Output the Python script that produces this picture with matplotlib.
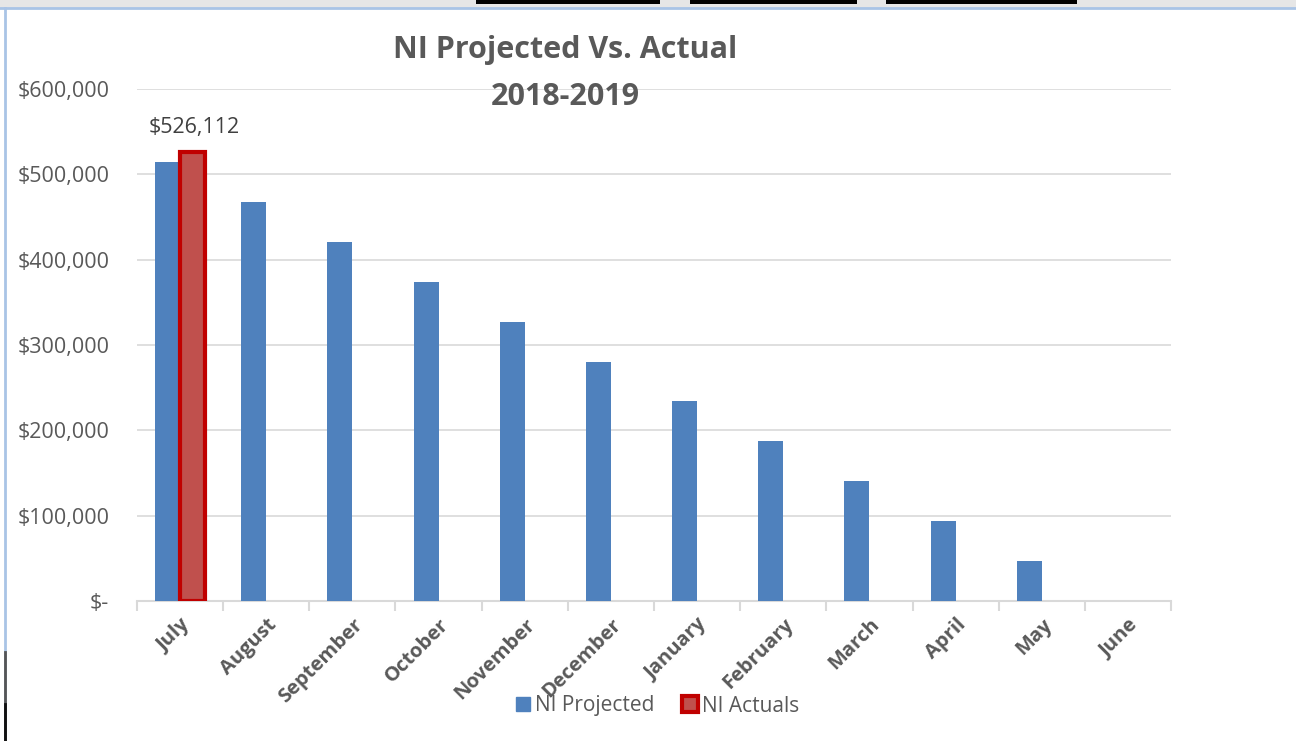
import numpy as np
import matplotlib.pyplot as plt
from matplotlib.lines import Line2D
from matplotlib.patches import Rectangle
from matplotlib.ticker import FuncFormatter

months = ["July", "August", "September", "October", "November", "December",
          "January", "February", "March", "April", "May", "June"]
projected = [514600, 467800, 421000, 374200, 327400, 280600,
             233800, 187000, 140200, 93400, 46600, 0]
actuals = [526112, None, None, None, None, None,
           None, None, None, None, None, None]

BLUE = "#4f81bd"
RED_FILL = "#c0504d"
RED_EDGE = "#c00000"
GREY_TXT = "#595959"
GRID = "#d9d9d9"


def money(v, pos=None):
    if v == 0:
        return "$-"
    return f"${v:,.0f}"


def main():
    plt.rcParams["font.family"] = ["Open Sans", "DejaVu Sans"]
    fig = plt.figure(figsize=(12.96, 7.41), dpi=100)

    # spreadsheet frame around the chart
    fig.patches.append(Rectangle((0, 0.988), 1, 0.012, transform=fig.transFigure,
                                 facecolor="#e6e6e6", edgecolor="none"))
    for x0, x1 in [(476, 660), (690, 857), (886, 1077)]:
        fig.patches.append(Rectangle((x0 / 1296, 0.995), (x1 - x0) / 1296, 0.005,
                                     transform=fig.transFigure,
                                     facecolor="black", edgecolor="none"))
    fig.add_artist(Line2D([0, 1], [0.989, 0.989], transform=fig.transFigure,
                          color="#a9c4e6", lw=2))
    fig.add_artist(Line2D([0.0035, 0.0035], [0.0, 0.989], transform=fig.transFigure,
                          color="#a9c4e6", lw=2))
    fig.add_artist(Line2D([0.0035, 0.0035], [0.0, 0.12], transform=fig.transFigure,
                          color="#555555", lw=2))
    fig.add_artist(Line2D([0.0035, 0.0035], [0.0, 0.05], transform=fig.transFigure,
                          color="#111111", lw=2))

    ax = fig.add_axes([137 / 1296, 1 - 601 / 741, (1171 - 137) / 1296, (601 - 89) / 741])

    x = np.arange(len(months))
    w = 0.29
    ax.bar(x - w / 2, projected, width=w, color=BLUE, zorder=3, label="NI Projected")
    act_x = [i + w / 2 for i, v in enumerate(actuals) if v is not None]
    act_v = [v for v in actuals if v is not None]
    ax.bar(act_x, act_v, width=w, color=RED_FILL, edgecolor=RED_EDGE,
           linewidth=3, zorder=3, label="NI Actuals")
    for xi, v in zip(act_x, act_v):
        ax.annotate(money(v), (xi, v), xytext=(1, 10), textcoords="offset points",
                    ha="center", va="bottom", fontsize=15.5, color="#404040")

    ax.set_xlim(-0.5, len(months) - 0.5)
    ax.set_ylim(0, 600000)
    ax.set_yticks(range(0, 600001, 100000))
    ax.yaxis.set_major_formatter(FuncFormatter(money))
    ax.grid(axis="y", color=GRID, lw=1.2, zorder=0)

    ax.set_xticks(x)
    ax.set_xticklabels(months, rotation=45, ha="right", rotation_mode="anchor",
                       fontsize=14.5, fontweight="bold", color=GREY_TXT)
    ax.set_xticks(np.arange(-0.5, len(months)), minor=True)
    ax.tick_params(axis="x", which="major", length=0, pad=10)
    ax.tick_params(axis="x", which="minor", length=7, color=GRID, width=1.5)
    ax.tick_params(axis="y", length=0, pad=20, labelsize=15.5, labelcolor=GREY_TXT)

    for s in ["top", "right", "left"]:
        ax.spines[s].set_visible(False)
    ax.spines["bottom"].set_color(GRID)
    ax.spines["bottom"].set_linewidth(1.5)

    fig.text(565 / 1296, 1 - 50 / 741, "NI Projected Vs. Actual", ha="center",
             va="center", fontsize=22, fontweight="bold", color=GREY_TXT)
    fig.text(565 / 1296, 1 - 97 / 741, "2018-2019", ha="center",
             va="center", fontsize=22, fontweight="bold", color=GREY_TXT)

    handles = [
        Line2D([], [], marker="s", ls="", markersize=10, color=BLUE),
        Line2D([], [], marker="s", ls="", markersize=12, markerfacecolor=RED_FILL,
               markeredgecolor=RED_EDGE, markeredgewidth=3),
    ]
    fig.legend(handles, ["NI Projected", "NI Actuals"], loc="center",
               bbox_to_anchor=(656 / 1296, 1 - 706 / 741), ncol=2, frameon=False,
               fontsize=15, labelcolor=GREY_TXT, handletextpad=0.1,
               columnspacing=1.2, handlelength=1.0)

    fig.savefig("out.png", dpi=100, facecolor="white")


if __name__ == "__main__":
    main()
